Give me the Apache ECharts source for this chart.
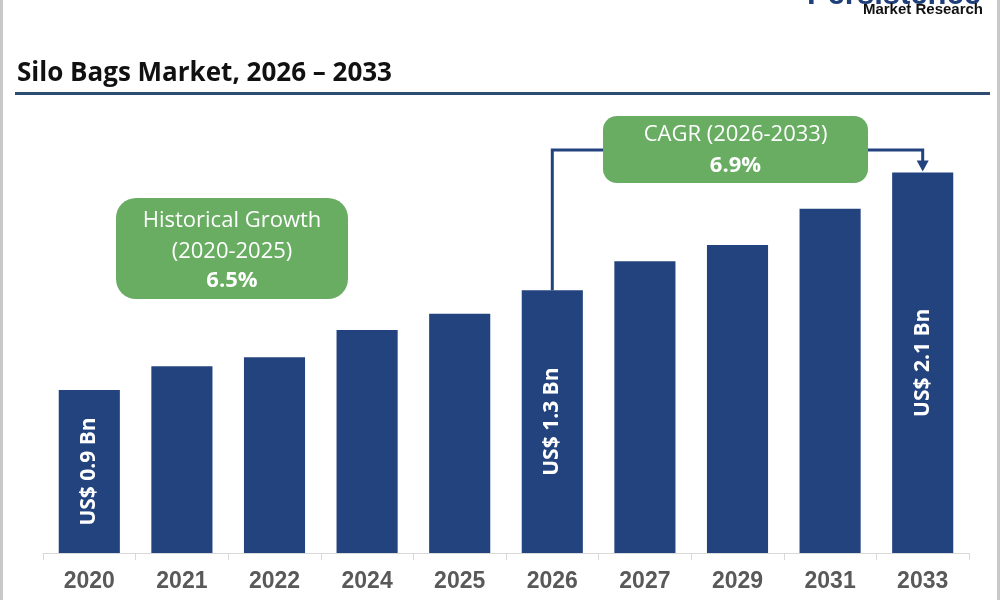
<!DOCTYPE html>
<html>
<head>
<meta charset="utf-8">
<script src="https://cdn.jsdelivr.net/npm/echarts@6/dist/echarts.min.js"></script>
<style>
html,body{margin:0;padding:0;background:#fff;}
#chart{width:1000px;height:600px;}
</style>
</head>
<body>
<div id="chart"></div>
<script>
const categories = ['2020','2021','2022','2024','2025','2026','2027','2029','2031','2033'];
const marketValues = [0.90, 1.03, 1.08, 1.23, 1.32, 1.45, 1.61, 1.70, 1.90, 2.10];
const barLabels = ['US$ 0.9 Bn','','','','','US$ 1.3 Bn','','','','US$ 2.1 Bn'];
const titleText = 'Silo Bags Market, 2026 \u2013 2033';
const historicalText = ['Historical Growth', '(2020-2025)', '6.5%'];
const cagrText = ['CAGR (2026-2033)', '6.9%'];

const BAR = '#22437e';
const GREEN = '#68ad62';
const FONT = '"Open Sans", "Noto Sans", sans-serif';

const chart = echarts.init(document.getElementById('chart'));

const option = {
  backgroundColor: '#ffffff',
  animation: false,
  grid: { left: 43, right: 31, top: 100, bottom: 47 },
  xAxis: {
    type: 'category',
    data: categories,
    axisLine: { lineStyle: { color: '#d9d9d9', width: 1 } },
    axisTick: { show: true, length: 7, lineStyle: { color: '#d9d9d9' } },
    axisLabel: {
      color: '#595959', fontSize: 23, fontWeight: 'bold',
      fontFamily: '"Liberation Sans", Arial, sans-serif', margin: 17
    }
  },
  yAxis: {
    type: 'value', min: 0, max: 2.5, show: false,
    splitLine: { show: false }
  },
  series: [{
    type: 'bar',
    data: marketValues,
    barCategoryGap: '34%',
    itemStyle: { color: BAR },
    label: {
      show: true,
      position: 'inside',
      rotate: 90,
      color: '#ffffff',
      fontSize: 21,
      fontWeight: 'bold',
      fontFamily: FONT,
      formatter: p => barLabels[p.dataIndex]
    }
  }]
};
chart.setOption(option);

const p2026 = chart.convertToPixel({ seriesIndex: 0 }, [5, marketValues[5]]);
const p2033 = chart.convertToPixel({ seriesIndex: 0 }, [9, marketValues[9]]);
const connY = 150;
const cagrBox = { x: 603, y: 116, w: 265, h: 67 };

chart.setOption({
  graphic: [
    { type: 'rect', shape: { x: 0, y: 0, width: 3, height: 600 }, style: { fill: '#c8c8c8' }, silent: true },
    { type: 'rect', shape: { x: 997, y: 0, width: 3, height: 600 }, style: { fill: '#c8c8c8' }, silent: true },
    { type: 'text', x: 981, y: 11, style: { text: 'Persistence', fill: '#1f3f7a', font: 'bold 31px "Liberation Sans", Arial, sans-serif', align: 'right', verticalAlign: 'bottom' } },
    { type: 'text', x: 983, y: 10, style: { text: 'Market Research', fill: '#111111', font: 'bold 15px "Liberation Sans", Arial, sans-serif', align: 'right', verticalAlign: 'middle' } },
    { type: 'text', x: 17, y: 74, style: { text: titleText, fill: '#111111', font: 'bold 26px ' + FONT, align: 'left', verticalAlign: 'middle' } },
    { type: 'rect', shape: { x: 15, y: 92, width: 975, height: 3 }, style: { fill: '#2e4b70' } },
    { type: 'rect', shape: { x: 116, y: 198, width: 232, height: 101, r: 20 }, style: { fill: GREEN } },
    { type: 'text', x: 232, y: 221, style: { text: historicalText[0], fill: '#fff', font: '22px ' + FONT, align: 'center', verticalAlign: 'middle' } },
    { type: 'text', x: 232, y: 252, style: { text: historicalText[1], fill: '#fff', font: '22px ' + FONT, align: 'center', verticalAlign: 'middle' } },
    { type: 'text', x: 232, y: 281, style: { text: historicalText[2], fill: '#fff', font: 'bold 22px ' + FONT, align: 'center', verticalAlign: 'middle' } },
    { type: 'polyline', shape: { points: [[p2026[0], p2026[1]], [p2026[0], connY], [cagrBox.x, connY]] }, style: { stroke: BAR, lineWidth: 3, fill: null } },
    { type: 'polyline', shape: { points: [[cagrBox.x + cagrBox.w, connY], [p2033[0], connY], [p2033[0], p2033[1] - 10]] }, style: { stroke: BAR, lineWidth: 3, fill: null } },
    { type: 'polygon', shape: { points: [[p2033[0] - 6, p2033[1] - 12], [p2033[0] + 6, p2033[1] - 12], [p2033[0], p2033[1] - 1]] }, style: { fill: BAR } },
    { type: 'rect', shape: { x: cagrBox.x, y: cagrBox.y, width: cagrBox.w, height: cagrBox.h, r: 14 }, style: { fill: GREEN } },
    { type: 'text', x: cagrBox.x + cagrBox.w / 2, y: 135, style: { text: cagrText[0], fill: '#fff', font: '22px ' + FONT, align: 'center', verticalAlign: 'middle' } },
    { type: 'text', x: cagrBox.x + cagrBox.w / 2, y: 166, style: { text: cagrText[1], fill: '#fff', font: 'bold 22px ' + FONT, align: 'center', verticalAlign: 'middle' } }
  ]
});
</script>
</body>
</html>
